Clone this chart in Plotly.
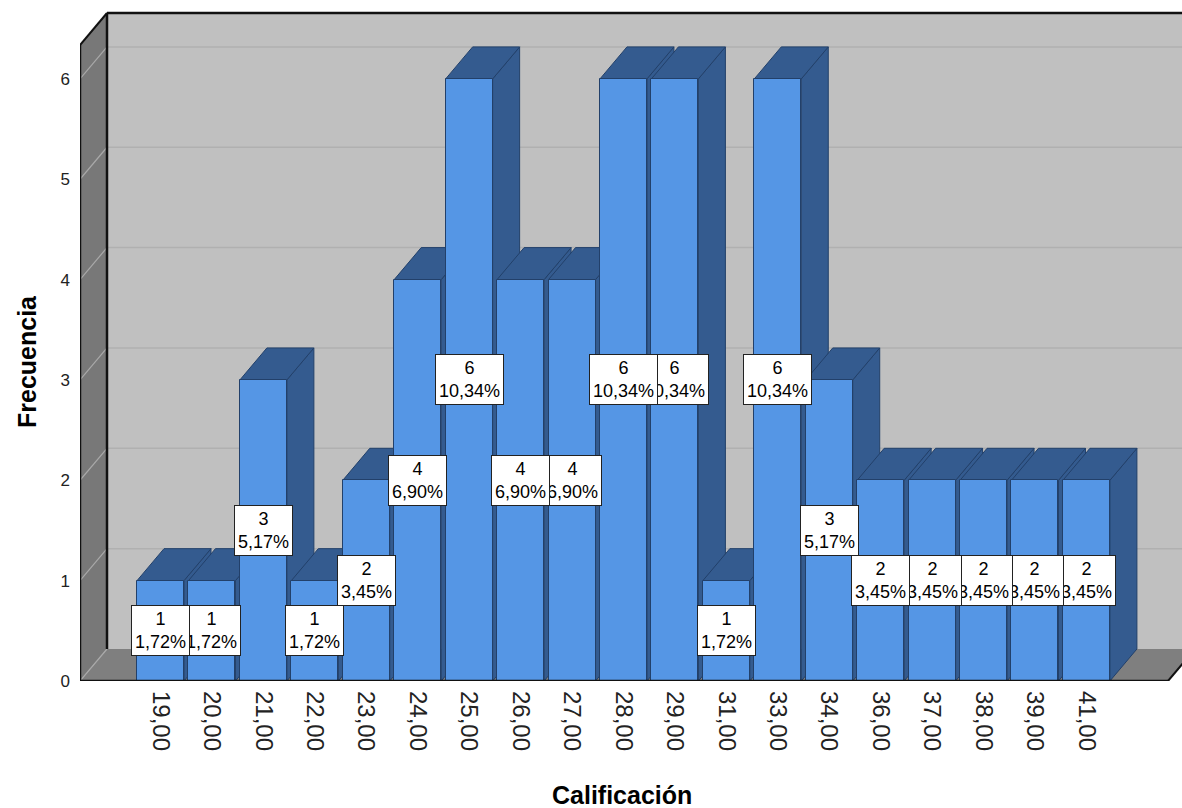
import plotly.graph_objects as go

# Frequency table of "Calificación"
categories = ["19,00", "20,00", "21,00", "22,00", "23,00", "24,00", "25,00", "26,00",
              "27,00", "28,00", "29,00", "31,00", "33,00", "34,00", "36,00", "37,00",
              "38,00", "39,00", "41,00"]
counts = [1, 1, 3, 1, 2, 4, 6, 4, 4, 6, 6, 1, 6, 3, 2, 2, 2, 2, 2]
percents = ["1,72%", "1,72%", "5,17%", "1,72%", "3,45%", "6,90%", "10,34%", "6,90%",
            "6,90%", "10,34%", "10,34%", "1,72%", "10,34%", "5,17%", "3,45%", "3,45%",
            "3,45%", "3,45%", "3,45%"]
y_ticks = [0, 1, 2, 3, 4, 5, 6]

# ---- page / plot geometry -------------------------------------------------
W, H = 1182, 808
ML, MB = 80, 127
PX_CAT = 51.44          # pixels per category step
PX_UNIT = 100.35        # pixels per frequency unit
X0 = -(160.5 - ML) / PX_CAT
X1 = X0 + (W - ML) / PX_CAT
YTOP = (H - MB) / PX_UNIT

DX = 27 / PX_CAT        # oblique depth offset (x, in category units)
DY = 32 / PX_UNIT       # oblique depth offset (y, in frequency units)
BAR_W = 47 / PX_CAT
WALL_TOP = (H - MB - 45) / PX_UNIT
FLOOR_R = X0 + (1168 - ML) / PX_CAT

FRONT = "#5596e5"
DARK = "#345b8f"
EDGE = "#22406a"
BACK_WALL = "#c0c0c0"
SIDE_WALL = "#787878"
FLOOR = "#7f7f7f"
GRID = "#b0b0b0"

FONT = "Liberation Sans, Arial, sans-serif"


def path(points):
    return "M " + " L ".join(f"{x},{y}" for x, y in points) + " Z"


def poly(points, fill, line_color=None, line_width=0, layer="below"):
    return dict(type="path", xref="x", yref="y", path=path(points), fillcolor=fill,
                line=dict(color=line_color or fill, width=line_width), layer=layer)


def seg(p, q, color, width, layer="below"):
    return dict(type="line", xref="x", yref="y", x0=p[0], y0=p[1], x1=q[0], y1=q[1],
                line=dict(color=color, width=width), layer=layer)


shapes = []
# back wall, left wall, floor
shapes.append(poly([(X0 + DX, DY), (X1 + 1, DY), (X1 + 1, WALL_TOP + DY),
                    (X0 + DX, WALL_TOP + DY)], BACK_WALL))
shapes.append(poly([(X0, 0), (X0 + DX, DY), (X0 + DX, WALL_TOP + DY), (X0, WALL_TOP)],
                   SIDE_WALL))
shapes.append(poly([(X0, 0), (FLOOR_R, 0), (FLOOR_R + DX, DY), (X0 + DX, DY)], FLOOR))

# grid lines on the back wall and the left wall
for v in y_ticks:
    if v > 0:
        shapes.append(seg((X0 + DX, v + DY), (X1 + 1, v + DY), GRID, 1.5))
    shapes.append(seg((X0, v), (X0 + DX, v + DY), "#a9a9a9", 1.2))

# wall outlines
shapes.append(seg((X0 + DX, DY), (X0 + DX, WALL_TOP + DY), "#111111", 2.5))
shapes.append(seg((X0 + DX, WALL_TOP + DY), (X1 + 1, WALL_TOP + DY), "#111111", 2.5))
shapes.append(seg((X0, 0), (X0, WALL_TOP), "#111111", 2.5))
shapes.append(seg((X0, WALL_TOP), (X0 + DX, WALL_TOP + DY), "#111111", 2))
shapes.append(seg((FLOOR_R, 0), (FLOOR_R + DX, DY), "#111111", 2))

# bar sides, then bar tops (front faces are the bar trace)
for i, v in enumerate(counts):
    r = i + BAR_W / 2
    shapes.append(poly([(r, 0), (r + DX, DY), (r + DX, v + DY), (r, v)], DARK, EDGE, 1))
for i, v in enumerate(counts):
    l, r = i - BAR_W / 2, i + BAR_W / 2
    shapes.append(poly([(l, v), (r, v), (r + DX, v + DY), (l + DX, v + DY)], DARK, EDGE, 1))

# floor front edge over the bar bases
shapes.append(seg((X0, 0), (FLOOR_R, 0), "#111111", 2.5, layer="above"))

fig = go.Figure()
fig.add_trace(go.Bar(
    x=list(range(len(categories))), y=counts, width=BAR_W,
    marker=dict(color=FRONT, line=dict(color=EDGE, width=1)),
    hoverinfo="skip", showlegend=False,
))

annotations = []
# value labels; left-most boxes end up on top
for i in reversed(range(len(categories))):
    annotations.append(dict(
        x=i, y=counts[i] / 2, xref="x", yref="y",
        text=f"{counts[i]}<br>{percents[i]}", showarrow=False,
        font=dict(family=FONT, size=18, color="black"),
        bgcolor="white", bordercolor="#222222", borderwidth=1, borderpad=3,
        align="center",
    ))

annotations.append(dict(
    x=(622 - ML) / (W - ML), y=(H - MB - 795) / (H - MB), xref="paper", yref="paper",
    text="<b>Calificación</b>", showarrow=False, xanchor="center", yanchor="middle",
    font=dict(family=FONT, size=25, color="black"),
))
annotations.append(dict(
    x=(27 - ML) / (W - ML), y=(H - MB - 362) / (H - MB), xref="paper", yref="paper",
    text="<b>Frecuencia</b>", showarrow=False, xanchor="center", yanchor="middle",
    textangle=-90, font=dict(family=FONT, size=25, color="black"),
))

fig.update_layout(
    width=W, height=H,
    margin=dict(l=ML, r=0, t=0, b=MB),
    paper_bgcolor="white", plot_bgcolor="white",
    shapes=shapes, annotations=annotations,
    xaxis=dict(range=[X0, X1], tickmode="array", tickvals=list(range(len(categories))),
               ticktext=categories, tickangle=90, showgrid=False, zeroline=False,
               showline=False, ticks="", fixedrange=True, ticklabelstandoff=9,
               tickfont=dict(family=FONT, size=24, color="#222222")),
    yaxis=dict(range=[0, YTOP], tickmode="array", tickvals=y_ticks,
               ticktext=[str(t) for t in y_ticks], showgrid=False, zeroline=False,
               showline=False, ticks="", fixedrange=True, ticklabelstandoff=9,
               tickfont=dict(family=FONT, size=17, color="#222222")),
    bargap=0,
)

fig.write_html("out.html")
